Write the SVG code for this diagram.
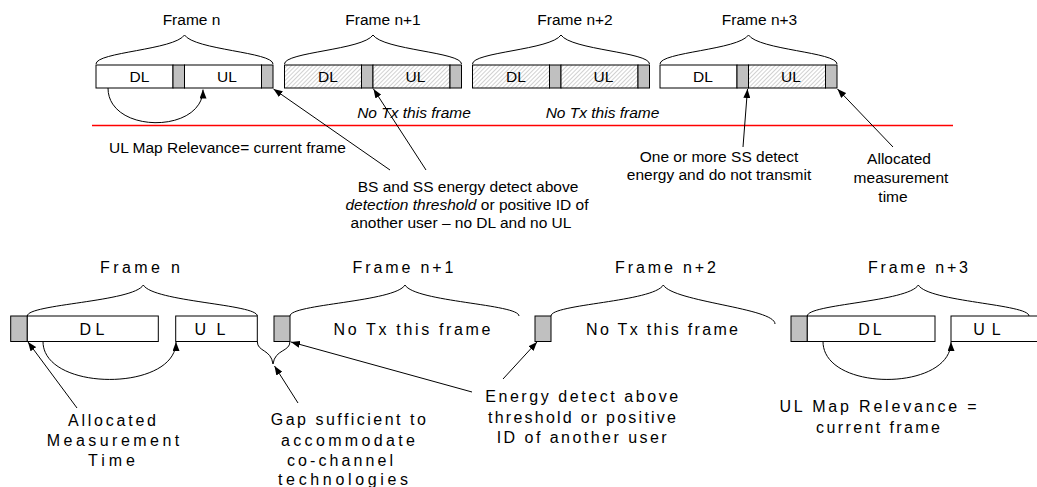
<svg xmlns="http://www.w3.org/2000/svg" width="1037" height="487" viewBox="0 0 1037 487">
  <style>
    .t { font-family: "Liberation Sans", Arial, sans-serif; font-size: 15.5px; fill: #000; }
    .tm { font-family: "Liberation Sans", Arial, sans-serif; font-size: 15.5px; fill: #000; text-anchor: middle; }
    .b { font-family: "Liberation Sans", Arial, sans-serif; font-size: 16px; fill: #000; text-anchor: middle; }
    .it { font-style: italic; }
    .box { fill: #fff; stroke: #000; stroke-width: 1; }
    .gap { fill: #c0c0c0; stroke: #000; stroke-width: 1; }
    .hat { fill: url(#hatch); stroke: #000; stroke-width: 1; }
    .brace { fill: none; stroke: #000; stroke-width: 1; }
    .conn { fill: none; stroke: #000; stroke-width: 1; marker-end: url(#ah); }
  </style>
  <defs>
    <pattern id="hatch" width="3" height="3" patternUnits="userSpaceOnUse" patternTransform="rotate(45)">
      <rect width="3" height="3" fill="#fff"/>
      <line x1="0" y1="0" x2="0" y2="3" stroke="#8c8c8c" stroke-width="0.8"/>
    </pattern>
    <marker id="ah" markerWidth="9" markerHeight="7" refX="9" refY="3.5" orient="auto" markerUnits="userSpaceOnUse">
      <path d="M0,0 L9,3.5 L0,7 z" fill="#000"/>
    </marker>
  </defs>

  <!-- Top row -->
  <g id="top-frame-n">
    <text class="tm" x="191.5" y="25">Frame n</text>
    <path class="brace" d="M96,64 C96,52 174.5,50 184.5,35 C194.5,50 273,52 273,64"/>
    <rect class="box" x="96" y="65" width="77" height="23"/>
    <rect class="gap" x="173" y="65" width="11.5" height="23"/>
    <rect class="box" x="184.5" y="65" width="77" height="23"/>
    <rect class="gap" x="261.5" y="65" width="11.5" height="23"/>
    <text class="tm" x="139.5" y="82">DL</text>
    <text class="tm" x="227" y="82">UL</text>
  </g>
  <g id="top-frame-n1">
    <text class="tm" x="383" y="25">Frame n+1</text>
    <path class="brace" d="M284.5,64 C284.5,52 363,50 373,35 C383,50 461.5,52 461.5,64"/>
    <rect class="hat" x="284.5" y="65" width="77" height="23"/>
    <rect class="gap" x="361.5" y="65" width="11.5" height="23"/>
    <rect class="hat" x="373" y="65" width="77" height="23"/>
    <rect class="gap" x="450" y="65" width="11.5" height="23"/>
    <text class="tm" x="328" y="82">DL</text>
    <text class="tm" x="415.5" y="82">UL</text>
  </g>
  <g id="top-frame-n2">
    <text class="tm" x="575" y="25">Frame n+2</text>
    <path class="brace" d="M472.5,64 C472.5,52 551,50 561,35 C571,50 649.5,52 649.5,64"/>
    <rect class="hat" x="472.5" y="65" width="77" height="23"/>
    <rect class="gap" x="549.5" y="65" width="11.5" height="23"/>
    <rect class="hat" x="561" y="65" width="77" height="23"/>
    <rect class="gap" x="638" y="65" width="11.5" height="23"/>
    <text class="tm" x="516" y="82">DL</text>
    <text class="tm" x="603.5" y="82">UL</text>
  </g>
  <g id="top-frame-n3">
    <text class="tm" x="759.5" y="25">Frame n+3</text>
    <path class="brace" d="M660,64 C660,52 738.5,50 748.5,35 C758.5,50 837,52 837,64"/>
    <rect class="box" x="660" y="65" width="77" height="23"/>
    <rect class="gap" x="737" y="65" width="11.5" height="23"/>
    <rect class="hat" x="748.5" y="65" width="77" height="23"/>
    <rect class="gap" x="825.5" y="65" width="11.5" height="23"/>
    <text class="tm" x="703" y="82">DL</text>
    <text class="tm" x="791" y="82">UL</text>
  </g>

  <g id="top-notx">
    <text class="tm it" x="414" y="118">No Tx this frame</text>
    <text class="tm it" x="602.5" y="118">No Tx this frame</text>
  </g>

  <g id="separator">
    <line x1="92" y1="125.5" x2="953" y2="125.5" stroke="#ff0000" stroke-width="1.5"/>
  </g>

  <g id="top-ulmap">
    <text class="t" x="109" y="153">UL Map Relevance= current frame</text>
  </g>
  <g id="top-bs-ss">
    <text class="tm" x="468" y="191.5">BS and SS energy detect above</text>
    <text class="tm" x="467" y="210"><tspan class="it">detection threshold</tspan> or positive ID of</text>
    <text class="tm" x="461" y="228">another user –  no DL and no UL</text>
  </g>
  <g id="top-one-or-more">
    <text class="tm" x="719" y="161.5">One or more SS detect</text>
    <text class="tm" x="719" y="179.5">energy and do not transmit</text>
  </g>
  <g id="top-allocated">
    <text class="tm" x="899" y="164">Allocated</text>
    <text class="tm" x="901" y="183">measurement</text>
    <text class="tm" x="893" y="201.5">time</text>
  </g>

  <!-- Bottom row -->
  <g id="bot-frame-n">
    <text class="b" x="140" y="273" textLength="80" lengthAdjust="spacing">Frame n</text>
    <path class="brace" d="M27.3,316 C27.3,304 133.3,302 143.3,285 C153.3,302 257.3,304 257.3,316"/>
    <rect class="gap" x="10.7" y="316" width="16.6" height="25.5"/>
    <rect class="box" x="27.3" y="316" width="131" height="25.5"/>
    <rect class="box" x="175.7" y="316" width="81.6" height="25.5"/>
    <text class="b" x="92" y="334.5" textLength="25" lengthAdjust="spacing">DL</text>
    <text class="b" x="210" y="334.5" textLength="31" lengthAdjust="spacing">UL</text>
  </g>
  <g id="bot-gap-brace">
    <path class="brace" d="M257.3,341.5 C257.3,352 271,349 273,364 C275,349 290,352 290,341.5"/>
  </g>
  <g id="bot-frame-n1">
    <text class="b" x="403" y="273" textLength="101" lengthAdjust="spacing">Frame n+1</text>
    <path class="brace" d="M290,316 C290,304 395,302 405,285 C415,302 519,304 519,316"/>
    <rect class="gap" x="274" y="316" width="16" height="25.5"/>
    <text class="b" x="412" y="335" textLength="157" lengthAdjust="spacing">No Tx this frame</text>
  </g>
  <g id="bot-frame-n2">
    <text class="b" x="665.5" y="273" textLength="101" lengthAdjust="spacing">Frame n+2</text>
    <path class="brace" d="M551,316 C551,304 653.3,302 663.3,285 C673.3,302 775,308 775,324"/>
    <rect class="gap" x="535" y="316" width="16" height="25.5"/>
    <text class="b" x="662" y="335" textLength="152" lengthAdjust="spacing">No Tx this frame</text>
  </g>
  <g id="bot-frame-n3">
    <text class="b" x="918" y="273" textLength="100" lengthAdjust="spacing">Frame n+3</text>
    <path class="brace" d="M807.3,316 C807.3,304 908.3,302 918.3,285 C928.3,302 1029,304 1029,316"/>
    <rect class="gap" x="791" y="316" width="16.3" height="25.5"/>
    <rect class="box" x="807.3" y="316" width="127.7" height="25.5"/>
    <rect class="box" x="951" y="316" width="100" height="25.5"/>
    <text class="b" x="870" y="334.5" textLength="23.5" lengthAdjust="spacing">DL</text>
    <text class="b" x="987" y="334.5" textLength="27.5" lengthAdjust="spacing">UL</text>
  </g>

  <g id="bot-allocated">
    <text class="b" x="112" y="426" textLength="88" lengthAdjust="spacing">Allocated</text>
    <text class="b" x="113" y="446" textLength="132.5" lengthAdjust="spacing">Measurement</text>
    <text class="b" x="111.5" y="466" textLength="47" lengthAdjust="spacing">Time</text>
  </g>
  <g id="bot-gap-label">
    <text class="b" x="348.3" y="425" textLength="155" lengthAdjust="spacing">Gap sufficient to</text>
    <text class="b" x="348" y="446" textLength="134" lengthAdjust="spacing">accommodate</text>
    <text class="b" x="340" y="466" textLength="106" lengthAdjust="spacing">co-channel</text>
    <text class="b" x="343" y="485" textLength="130" lengthAdjust="spacing">technologies</text>
  </g>
  <g id="bot-energy">
    <text class="b" x="581.7" y="401.7" textLength="193" lengthAdjust="spacing">Energy detect above</text>
    <text class="b" x="582" y="422.7" textLength="188" lengthAdjust="spacing">threshold or positive</text>
    <text class="b" x="581.7" y="442.7" textLength="170" lengthAdjust="spacing">ID of another user</text>
  </g>
  <g id="bot-ulmap">
    <text class="b" x="878" y="411.7" textLength="197" lengthAdjust="spacing">UL Map Relevance =</text>
    <text class="b" x="878" y="432.7" textLength="124" lengthAdjust="spacing">current frame</text>
  </g>

  <g id="connectors">
    <path class="conn" d="M108,88 C108,134 203,134 203,89.5"/>
    <line class="conn" x1="390" y1="170" x2="273.5" y2="89"/>
    <line class="conn" x1="426" y1="170" x2="373.5" y2="89"/>
    <line class="conn" x1="743" y1="147" x2="747.5" y2="89"/>
    <line class="conn" x1="893" y1="147" x2="837.5" y2="89"/>

    <path class="conn" d="M43,341.5 C43,392 176,392 176,342"/>
    <path class="conn" d="M823,341.5 C823,392 951,392 951,342"/>
    <line class="conn" x1="77" y1="408" x2="28" y2="342"/>
    <line class="conn" x1="298" y1="403" x2="274.5" y2="366"/>
    <line class="conn" x1="472" y1="392" x2="291" y2="342"/>
    <line class="conn" x1="503" y1="379" x2="537" y2="342"/>
  </g>
</svg>
